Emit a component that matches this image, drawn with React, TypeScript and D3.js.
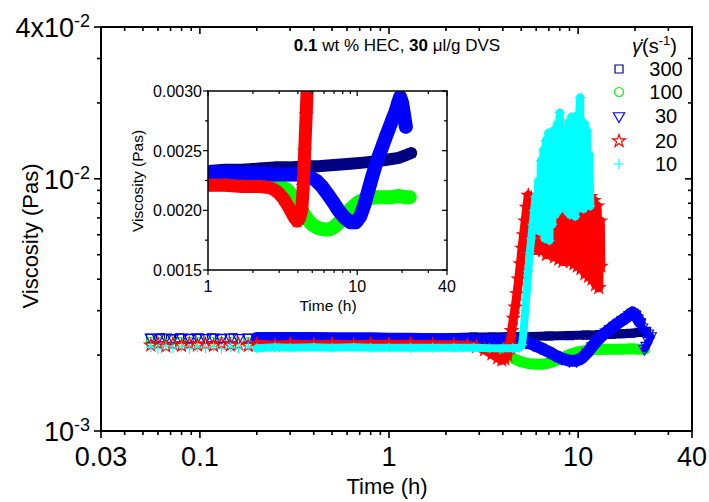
import React from 'react';
import * as d3 from 'd3';

type P = [number, number];

// ---- data: time (h), viscosity (Pa s) ----
const s300: P[] = [
  [0.055,0.00233],[0.062,0.00234],[0.07,0.00232],[0.078,0.00234],[0.088,0.00233],[0.1,0.00233],[0.115,0.00234],
  [0.13,0.00233],[0.15,0.00234],[0.18,0.00233],[0.22,0.00234],[0.27,0.00233],[0.33,0.00234],[0.4,0.00233],
  [0.5,0.00234],[0.65,0.00233],[0.8,0.00233],[1,0.00233],[1.3,0.00234],[1.7,0.00234],[2.2,0.00235],[2.8,0.00236],
  [3.5,0.00236],[4.5,0.00237],[5.5,0.00237],[7,0.00238],[9,0.00239],[11,0.0024],[13,0.00241],[15,0.00242],
  [17,0.00243],[19,0.00244],[21,0.00246],[23,0.00248],
];
const s100: P[] = [
  [0.055,0.00226],[0.062,0.00225],[0.07,0.00227],[0.078,0.00225],[0.088,0.00226],[0.1,0.00225],[0.115,0.00226],
  [0.13,0.00225],[0.15,0.00226],[0.18,0.00225],[0.22,0.00225],[0.27,0.00225],[0.33,0.00224],[0.4,0.00224],
  [0.5,0.00224],[0.65,0.00223],[0.8,0.00223],[1,0.00223],[1.3,0.00223],[1.7,0.00223],[2.2,0.00223],[2.6,0.00223],
  [3,0.00221],[3.4,0.00217],[3.8,0.0021],[4.2,0.00201],[4.6,0.00193],[5,0.00188],[5.5,0.00185],[6,0.00184],
  [6.5,0.00184],[7,0.00186],[7.6,0.0019],[8.3,0.00196],[9,0.00201],[10,0.00206],[11,0.00209],[12,0.0021],
  [13.5,0.00211],[15,0.00211],[17,0.00211],[19,0.00212],[21,0.00211],[22.5,0.00211],
];
const s30: P[] = [
  [0.055,0.00235],[0.06,0.00234],[0.066,0.00235],[0.072,0.00234],[0.08,0.00235],[0.088,0.00234],[0.097,0.00236],
  [0.107,0.00234],[0.118,0.00235],[0.13,0.00234],[0.145,0.00235],[0.16,0.00234],[0.18,0.00235],[0.2,0.00234],
  [0.25,0.00234],[0.3,0.00234],[0.4,0.00234],[0.5,0.00233],[0.65,0.00233],[0.8,0.00233],[1,0.00232],[1.3,0.00232],
  [1.7,0.00231],[2.2,0.00231],[2.8,0.0023],[3.5,0.0023],[4.2,0.0023],[4.8,0.00228],[5.3,0.00225],[5.8,0.0022],
  [6.3,0.00214],[6.9,0.00207],[7.5,0.002],[8.2,0.00194],[9,0.0019],[9.8,0.0019],[10.5,0.00195],[11.2,0.00205],
  [11.9,0.00217],[12.6,0.00228],[13.3,0.00238],[14,0.00246],[14.8,0.00254],[15.6,0.00262],[16.4,0.00269],
  [17.2,0.00276],[18,0.00282],[18.7,0.00289],[19.4,0.00295],[20,0.0029],[20.6,0.0028],[21.2,0.0027],
];
const s30Tail: P[] = [
  [21.2,0.0027],[21.8,0.00258],[22.6,0.0025],[23.4,0.00244],[24.2,0.00238],[23.6,0.00228],[23,0.00218],[22.4,0.00212],
];
const s20: P[] = [
  [0.055,0.00219],[0.06,0.00222],[0.066,0.00217],[0.072,0.00221],[0.08,0.00218],[0.088,0.00222],[0.097,0.00219],
  [0.107,0.00221],[0.118,0.00218],[0.13,0.00222],[0.145,0.00219],[0.16,0.00221],[0.18,0.00218],[0.2,0.00221],
  [0.25,0.00219],[0.3,0.00221],[0.4,0.0022],[0.5,0.00221],[0.65,0.0022],[0.8,0.00221],[1,0.00221],[1.3,0.00221],
  [1.7,0.0022],[2.2,0.0022],[2.6,0.00219],[2.9,0.00216],[3.2,0.0021],[3.5,0.00202],[3.75,0.00195],[3.95,0.00191],
  [4.1,0.00193],[4.25,0.002],[4.35,0.0022],[4.45,0.0025],[4.55,0.0028],[4.65,0.0031],[4.75,0.0035],[4.85,0.004],
  [4.95,0.0046],[5.05,0.0053],[5.15,0.006],[5.25,0.0068],[5.35,0.0077],[5.45,0.0086],
  [5.55,0.0062],[5.65,0.0084],[5.75,0.0055],[5.85,0.0082],[5.95,0.0052],[6.05,0.0078],[6.2,0.0058],[6.35,0.0074],
  [6.5,0.0052],[6.65,0.0072],[6.8,0.005],[6.95,0.0078],[7.1,0.0055],[7.3,0.008],[7.5,0.0049],[7.7,0.0084],
  [7.9,0.0048],[8.1,0.0082],[8.3,0.0047],[8.5,0.0085],[8.7,0.0052],[8.9,0.0083],[9.1,0.0047],[9.3,0.0086],
  [9.5,0.0046],[9.7,0.0088],[9.9,0.0045],[10.1,0.0089],[10.35,0.0044],[10.6,0.009],[10.85,0.0042],[11.1,0.0087],
  [11.35,0.0041],[11.6,0.0085],[11.85,0.004],[12.1,0.0082],[12.35,0.0038],[12.6,0.0078],[12.85,0.0037],
  [13.1,0.0068],[13.2,0.0045],
];
const s10: P[] = [
  [0.055,0.00215],[0.06,0.00212],[0.066,0.00217],[0.072,0.00213],[0.08,0.00216],[0.088,0.00212],[0.097,0.00215],
  [0.107,0.00213],[0.118,0.00216],[0.13,0.00212],[0.145,0.00215],[0.16,0.00213],[0.18,0.00216],[0.2,0.00213],
  [0.25,0.00215],[0.3,0.00214],[0.4,0.00215],[0.5,0.00214],[0.65,0.00215],[0.8,0.00214],[1,0.00214],[1.3,0.00214],
  [1.7,0.00214],[2.2,0.00214],[2.8,0.00214],[3.4,0.00213],[4,0.00213],[4.5,0.00213],[4.9,0.00214],[5.05,0.0022],
  [5.15,0.0025],[5.25,0.003],[5.35,0.0036],[5.45,0.0043],[5.55,0.0051],[5.65,0.0058],[5.75,0.0066],[5.85,0.0075],
  [5.95,0.0085],[6.05,0.0068],[6.15,0.0098],[6.25,0.0062],[6.35,0.0118],[6.45,0.0065],[6.55,0.013],[6.65,0.0058],
  [6.75,0.0142],[6.85,0.0062],[6.95,0.0152],[7.05,0.0057],[7.15,0.0148],[7.3,0.0066],[7.45,0.0156],[7.6,0.0072],
  [7.75,0.0165],[7.9,0.0075],[8.0,0.0183],[8.15,0.0082],[8.3,0.0152],[8.45,0.0078],[8.6,0.0158],[8.75,0.0074],
  [8.9,0.0168],[9.05,0.0072],[9.2,0.0176],[9.35,0.0078],[9.5,0.0172],[9.65,0.0071],[9.8,0.0178],[9.95,0.0076],
  [10.1,0.0175],[10.25,0.021],[10.4,0.0078],[10.55,0.0168],[10.7,0.0076],[10.85,0.0165],[11.0,0.0079],
  [11.15,0.0155],[11.3,0.0082],[11.45,0.0125],[11.6,0.0078],
];

const legendLabels = ['300', '100', '30', '20', '10'];

const xMainMajor = [0.03, 0.1, 1, 10, 40];
const xMainLabels = ['0.03', '0.1', '1', '10', '40'];
const xMainMinor = [0.04,0.05,0.06,0.07,0.08,0.09,0.2,0.3,0.4,0.5,0.6,0.7,0.8,0.9,2,3,4,5,6,7,8,9,20,30];
const yMainMajor = [0.001, 0.01, 0.04];
const yMainLabels: [string, string][] = [['10', '-3'], ['10', '-2'], ['4x10', '-2']];
const yMainMinor = [0.002,0.003,0.004,0.005,0.006,0.007,0.008,0.009,0.02,0.03];

const xInsetMajor = [1, 10, 40];
const xInsetLabels = ['1', '10', '40'];
const xInsetMinor = [2,3,4,5,6,7,8,9,20,30];
const yInsetMajor = [0.0015, 0.002, 0.0025, 0.003];
const yInsetLabels = ['0.0015', '0.0020', '0.0025', '0.0030'];
const yInsetMinor = [0.00175, 0.00225, 0.00275];

const FONT = "'Liberation Sans', Arial, Helvetica, sans-serif";

type Shape = 'square' | 'circle' | 'triangle' | 'star' | 'plus';
interface Series { data: P[]; color: string; shape: Shape; }

const SER: Series[] = [
  { data: s300, color: '#000080', shape: 'square' },
  { data: s100, color: '#00ff00', shape: 'circle' },
  { data: s30, color: '#0000ff', shape: 'triangle' },
  { data: s20, color: '#ff0000', shape: 'star' },
  { data: s10, color: '#00ffff', shape: 'plus' },
];

function markerD(shape: Shape, k = 1): string {
  switch (shape) {
    case 'square': return d3.symbol(d3.symbolSquare, 64 * k * k)() as string;
    case 'circle': return d3.symbol(d3.symbolCircle, 64 * k * k)() as string;
    case 'triangle': return d3.symbol(d3.symbolTriangle, 55 * k * k)() as string;
    case 'star': return d3.symbol(d3.symbolStar, 50 * k * k)() as string;
    default: { const h = 5 * k; return `M${-h},0H${h}M0,${-h}V${h}`; }
  }
}

function Marker({ x, y, s, k = 1, sw = 1.1 }: { x: number; y: number; s: Series; k?: number; sw?: number }) {
  const rot = s.shape === 'triangle' ? ' rotate(180)' : '';
  return <path d={markerD(s.shape, k)} transform={`translate(${x},${y})${rot}`} fill="none" stroke={s.color} strokeWidth={sw} />;
}

function SeriesLayer({ s, data, xs, ys, bandFrom, bandW, k }: {
  s: Series; data: P[]; xs: (v: number) => number; ys: (v: number) => number; bandFrom: number; bandW: number; k: number;
}) {
  const band = data.filter(d => d[0] >= bandFrom);
  const line = d3.line<P>().x(d => xs(d[0])).y(d => ys(d[1]));
  return (
    <g>
      {band.length > 1 && (
        <path d={line(band) as string} fill="none" stroke={s.color} strokeWidth={bandW} strokeLinejoin="round" strokeLinecap="round" />
      )}
      {data.map((d, i) => <Marker key={i} x={xs(d[0])} y={ys(d[1])} s={s} k={k} />)}
    </g>
  );
}

export default function App() {
  const M = { l: 101, r: 692, t: 27, b: 431 };
  const I = { l: 208, r: 447, t: 91, b: 270 };
  const x = d3.scaleLog().domain([0.03, 40]).range([M.l, M.r]);
  const y = d3.scaleLog().domain([0.001, 0.04]).range([M.b, M.t]);
  const xi = d3.scaleLog().domain([1, 40]).range([I.l, I.r]);
  const yi = d3.scaleLinear().domain([0.0015, 0.003]).range([I.b, I.t]);

  const maj = 7, mnr = 4, imaj = 5, imnr = 3;
  const legY = [69, 92, 116, 141, 164];

  return (
    <svg width={709} height={502} style={{ position: 'absolute', left: 0, top: 0, background: '#fff' }} fontFamily={FONT}>
      <defs>
        <clipPath id="clipMain"><rect x={M.l} y={M.t} width={M.r - M.l} height={M.b - M.t} /></clipPath>
        <clipPath id="clipInset"><rect x={I.l} y={I.t} width={I.r - I.l} height={I.b - I.t} /></clipPath>
      </defs>
      <rect x={0} y={0} width={709} height={502} fill="#fff" />

      {/* main data */}
      <g clipPath="url(#clipMain)">
        <SeriesLayer s={SER[0]} data={SER[0].data} xs={x} ys={y} bandFrom={0.2} bandW={9} k={1} />
        <SeriesLayer s={SER[1]} data={SER[1].data} xs={x} ys={y} bandFrom={0.2} bandW={11} k={1} />
        <SeriesLayer s={SER[2]} data={SER[2].data} xs={x} ys={y} bandFrom={0.2} bandW={12} k={1} />
        <SeriesLayer s={SER[2]} data={s30Tail} xs={x} ys={y} bandFrom={0.2} bandW={7} k={1} />
        <SeriesLayer s={SER[3]} data={SER[3].data} xs={x} ys={y} bandFrom={0.2} bandW={9} k={1} />
        <SeriesLayer s={SER[4]} data={SER[4].data} xs={x} ys={y} bandFrom={0.2} bandW={8} k={1} />
      </g>

      {/* main frame & ticks */}
      <rect x={M.l} y={M.t} width={M.r - M.l} height={M.b - M.t} fill="none" stroke="#000" strokeWidth={2} />
      <g stroke="#000" strokeWidth={1.6}>
        {xMainMajor.map((v, i) => <g key={'xm' + i}>
          <line x1={x(v)} x2={x(v)} y1={M.b} y2={M.b + maj} />
          <line x1={x(v)} x2={x(v)} y1={M.t} y2={M.t + maj} />
        </g>)}
        {xMainMinor.map((v, i) => <g key={'xn' + i}>
          <line x1={x(v)} x2={x(v)} y1={M.b} y2={M.b + mnr} />
          <line x1={x(v)} x2={x(v)} y1={M.t} y2={M.t + mnr} />
        </g>)}
        {yMainMajor.map((v, i) => <g key={'ym' + i}>
          <line x1={M.l - maj} x2={M.l} y1={y(v)} y2={y(v)} />
          <line x1={M.r - maj} x2={M.r} y1={y(v)} y2={y(v)} />
        </g>)}
        {yMainMinor.map((v, i) => <g key={'yn' + i}>
          <line x1={M.l - mnr} x2={M.l} y1={y(v)} y2={y(v)} />
          <line x1={M.r - mnr} x2={M.r} y1={y(v)} y2={y(v)} />
        </g>)}
      </g>
      {xMainMajor.map((v, i) => (
        <text key={'xl' + i} x={x(v)} y={466} fontSize={27} textAnchor="middle">{xMainLabels[i]}</text>
      ))}
      {yMainMajor.map((v, i) => (
        <text key={'yl' + i} x={90} y={y(v) + 10} fontSize={27} textAnchor="end">
          {yMainLabels[i][0]}<tspan dy={-10} fontSize={18}>{yMainLabels[i][1]}</tspan>
        </text>
      ))}
      <text x={387} y={494} fontSize={22} textAnchor="middle">Time (h)</text>
      <text transform="translate(38,236) rotate(-90)" fontSize={22} textAnchor="middle">Viscosity (Pas)</text>

      {/* title */}
      <text x={397} y={51} fontSize={17} textAnchor="middle">
        <tspan fontWeight="bold">0.1</tspan> wt % HEC, <tspan fontWeight="bold">30</tspan> μl/g DVS
      </text>

      {/* legend */}
      <text x={632} y={53} fontSize={20}>
        <tspan fontStyle="italic">γ̇</tspan>(s<tspan dy={-8} fontSize={13}>-1</tspan><tspan dy={8}>)</tspan>
      </text>
      {SER.map((s, i) => (
        <g key={'lg' + i}>
          <Marker x={619} y={legY[i]} s={s} k={1} sw={1.2} />
          <text x={666} y={legY[i] + 7} fontSize={20} textAnchor="middle">{legendLabels[i]}</text>
        </g>
      ))}

      {/* inset */}
      <rect x={I.l} y={I.t} width={I.r - I.l} height={I.b - I.t} fill="#fff" />
      <g clipPath="url(#clipInset)">
        <SeriesLayer s={SER[0]} data={SER[0].data} xs={xi} ys={yi} bandFrom={0} bandW={12} k={0.95} />
        <SeriesLayer s={SER[1]} data={SER[1].data} xs={xi} ys={yi} bandFrom={0} bandW={14} k={0.95} />
        <SeriesLayer s={SER[2]} data={SER[2].data} xs={xi} ys={yi} bandFrom={0} bandW={14} k={0.95} />
        <SeriesLayer s={SER[3]} data={SER[3].data} xs={xi} ys={yi} bandFrom={0} bandW={13} k={0.95} />
      </g>
      <rect x={I.l} y={I.t} width={I.r - I.l} height={I.b - I.t} fill="none" stroke="#000" strokeWidth={1.5} />
      <g stroke="#000" strokeWidth={1.2}>
        {xInsetMajor.map((v, i) => <g key={'ixm' + i}>
          <line x1={xi(v)} x2={xi(v)} y1={I.b} y2={I.b + imaj} />
          <line x1={xi(v)} x2={xi(v)} y1={I.t} y2={I.t + imaj} />
        </g>)}
        {xInsetMinor.map((v, i) => <g key={'ixn' + i}>
          <line x1={xi(v)} x2={xi(v)} y1={I.b} y2={I.b + imnr} />
          <line x1={xi(v)} x2={xi(v)} y1={I.t} y2={I.t + imnr} />
        </g>)}
        {yInsetMajor.map((v, i) => <g key={'iym' + i}>
          <line x1={I.l - imaj} x2={I.l} y1={yi(v)} y2={yi(v)} />
          <line x1={I.r - imaj} x2={I.r} y1={yi(v)} y2={yi(v)} />
        </g>)}
        {yInsetMinor.map((v, i) => <g key={'iyn' + i}>
          <line x1={I.l - imnr} x2={I.l} y1={yi(v)} y2={yi(v)} />
          <line x1={I.r - imnr} x2={I.r} y1={yi(v)} y2={yi(v)} />
        </g>)}
      </g>
      {xInsetMajor.map((v, i) => (
        <text key={'ixl' + i} x={xi(v)} y={292} fontSize={16} textAnchor="middle">{xInsetLabels[i]}</text>
      ))}
      {yInsetMajor.map((v, i) => (
        <text key={'iyl' + i} x={202} y={yi(v) + 6} fontSize={16} textAnchor="end">{yInsetLabels[i]}</text>
      ))}
      <text x={328} y={311} fontSize={15.5} textAnchor="middle">Time (h)</text>
      <text transform="translate(143,181) rotate(-90)" fontSize={15.5} textAnchor="middle">Viscosity (Pas)</text>
    </svg>
  );
}
